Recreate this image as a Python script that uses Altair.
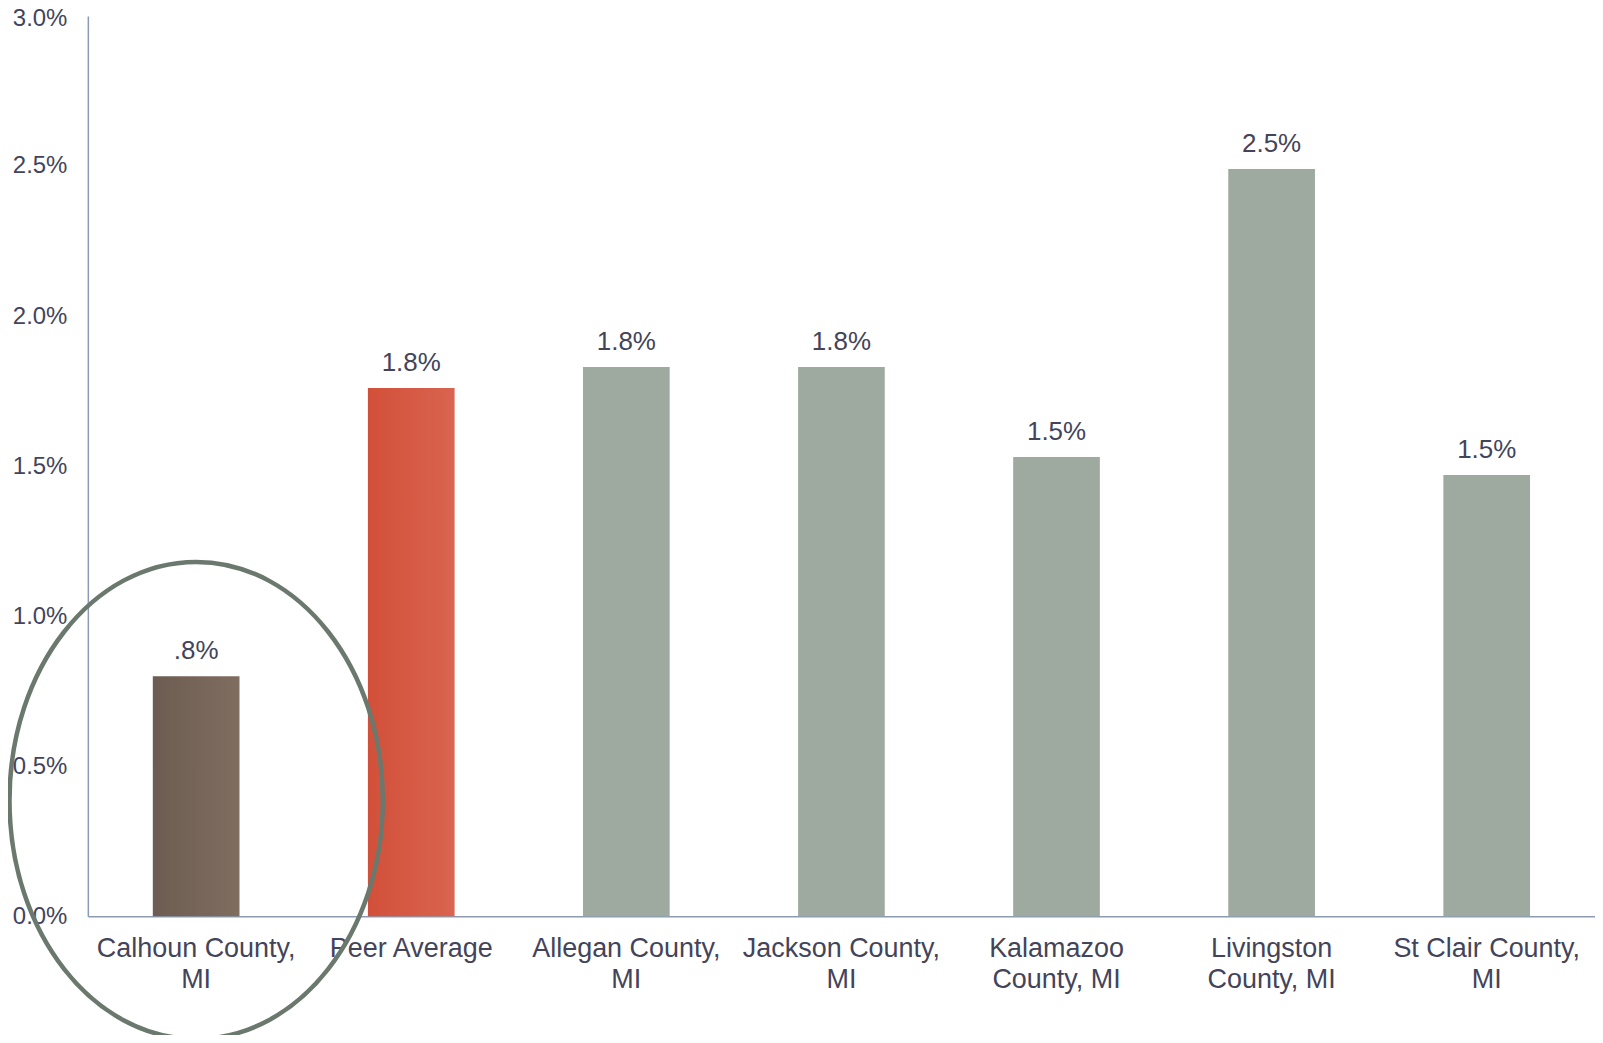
import altair as alt
import pandas as pd

categories = ["Calhoun County,|MI", "Peer Average", "Allegan County,|MI", "Jackson County,|MI",
              "Kalamazoo|County, MI", "Livingston|County, MI", "St Clair County,|MI"]
values = [0.0080, 0.0176, 0.0183, 0.0183, 0.0153, 0.0249, 0.0147]
value_labels = [".8%", "1.8%", "1.8%", "1.8%", "1.5%", "2.5%", "1.5%"]
groups = ["focus", "peer", "other", "other", "other", "other", "other"]

# highlight ellipse annotation (around the focus county), in data units
ellipse_category = ["Calhoun County,|MI"]
ellipse_center_value = [0.00386]

df = pd.DataFrame({"category": categories, "value": values, "label": value_labels, "group": groups})
ell = pd.DataFrame({"category": ellipse_category, "value": ellipse_center_value})

TEXT = "#43445a"
AXIS = "#8c9bb3"
FONT = "Liberation Sans"

x_scale = alt.Scale(paddingInner=0.597, paddingOuter=0.302)
x_enc = alt.X("category:N", sort=categories, scale=x_scale,
              axis=alt.Axis(title=None, labelAngle=0, ticks=False, labelPadding=19,
                            labelFontSize=27, labelColor=TEXT, labelFont=FONT,
                            labelLineHeight=31, labelExpr="split(datum.label, '|')",
                            domainColor=AXIS, domainWidth=1.5, labelLimit=400))
y_enc = alt.Y("value:Q", scale=alt.Scale(domain=[0, 0.03], nice=False),
              axis=alt.Axis(title=None, format=".1%", values=[0, 0.005, 0.01, 0.015, 0.02, 0.025, 0.03],
                            grid=False, ticks=False, labelPadding=21, labelFontSize=24,
                            labelOffset={"condition": {"test": "datum.value >= 0.029", "value": 3}, "value": 0},
                            labelColor=TEXT, labelFont=FONT, domainColor=AXIS, domainWidth=1.5))

def grad(c1, c2):
    return alt.Gradient(gradient="linear", x1=0, x2=1, y1=0, y2=0,
                        stops=[alt.GradientStop(color=c1, offset=0),
                               alt.GradientStop(color=c2, offset=1)])

base = alt.Chart(df)
focus = base.transform_filter(alt.datum.group == "focus").mark_bar(
    fill=grad("#6d5c51", "#7f6d60")).encode(x=x_enc, y=y_enc)
peer = base.transform_filter(alt.datum.group == "peer").mark_bar(
    fill=grad("#d2503a", "#d9644f")).encode(x=x_enc, y=y_enc)
other = base.transform_filter(alt.datum.group == "other").mark_bar(
    fill="#9eaaa0").encode(x=x_enc, y=y_enc)

texts = base.mark_text(dy=-17, baseline="alphabetic", fontSize=26, font=FONT, color=TEXT).encode(
    x=alt.X("category:N", sort=categories), y="value:Q", text="label:N")

k = 0.5523
r = 1.278
path = (f"M -1 0 C -1 {-k*r:.4f} {-k:.4f} {-r} 0 {-r} "
        f"C {k:.4f} {-r} 1 {-k*r:.4f} 1 0 "
        f"C 1 {k*r:.4f} {k:.4f} {r} 0 {r} "
        f"C {-k:.4f} {r} -1 {k*r:.4f} -1 0 Z")
ellipse = alt.Chart(ell).mark_point(shape=path, size=374 * 374, filled=False,
                                     stroke="#6b786e", strokeWidth=4.5, opacity=1).encode(
    x=alt.X("category:N", sort=categories), y="value:Q")

chart = alt.layer(focus, peer, other, texts, ellipse).properties(
    width=1510, height=902,
    autosize=alt.AutoSizeParams(type="none"),
    padding={"left": 80, "top": 7, "right": 0, "bottom": 118},
).configure_view(stroke=None)

chart.save("out.html", embed_options={"renderer": "svg", "actions": False})
